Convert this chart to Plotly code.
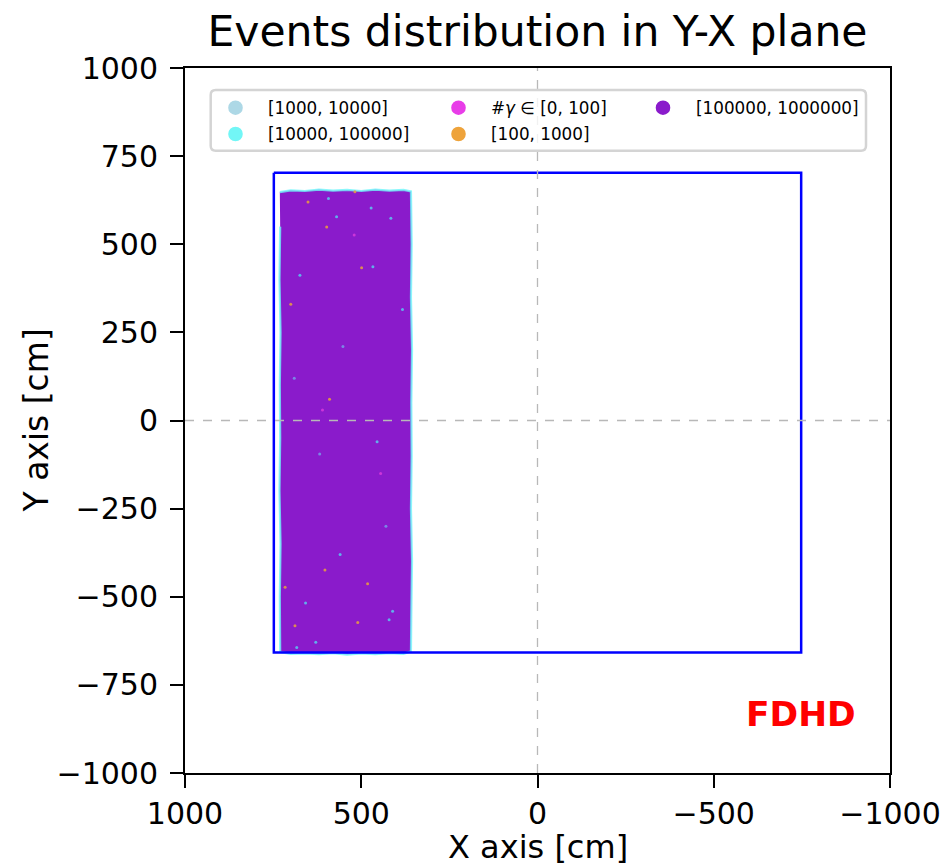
import plotly.graph_objects as go

# ---------------- data ----------------
title_text = "Events distribution in Y-X plane"
x_label = "X axis [cm]"
y_label = "Y axis [cm]"
detector = "FDHD"

x_ticks = [1000, 500, 0, -500, -1000]
x_tick_text = ["1000", "500", "0", "\u2212500", "\u22121000"]
y_ticks = [1000, 750, 500, 250, 0, -250, -500, -750, -1000]
y_tick_text = ["1000", "750", "500", "250", "0", "\u2212250", "\u2212500", "\u2212750", "\u22121000"]

# detector boundary (cm)
box_x = [748, -748, -748, 748, 748]
box_y = [703, 703, -658, -658, 703]

# outline of the dense event cloud, class [100000, 1000000] (cm)
cloud_x = [731, 700, 660, 620, 580, 540, 500, 460, 420, 380, 359,
           357, 359, 356, 358, 357, 359, 356, 358, 359,
           380, 420, 460, 500, 540, 580, 620, 660, 700, 730,
           731, 729, 732, 730, 731, 729, 732, 730]
cloud_y = [648, 653, 651, 655, 652, 654, 651, 655, 652, 654, 650,
           500, 350, 200, 50, -100, -250, -400, -550, -655,
           -662, -660, -663, -661, -664, -660, -663, -661, -662, -657,
           -500, -350, -200, -50, 100, 250, 400, 550]

# sparse events of the other classes (cm)
lightblue_x = [552, 618, 430, 690]
lightblue_y = [210, -95, -300, 120]
cyan_x = [593, 570, 416, 472, 467, 674, 658, 411, 421, 629, 683, 383, 560, 455]
cyan_y = [630, 578, 574, 603, 436, 412, -518, -541, -565, -629, -644, 315, -380, -60]
magenta_x = [520, 445, 610]
magenta_y = [526, -150, 30]
orange_x = [651, 598, 499, 518, 510, 603, 482, 688, 716, 590, 700]
orange_y = [620, 549, 433, 649, -573, -424, -463, -582, -473, 60, 330]

legend_labels = ["[1000, 10000]", "[10000, 100000]", "#<i>\u03b3</i> \u2208 [0, 100]",
                 "[100, 1000]", "[100000, 1000000]"]
legend_colors = ["#add8e6", "#72f6f6", "#e83de8", "#eea33b", "#8a1bcb"]
PURPLE = legend_colors[4]

FONT = "DejaVu Sans"

# pixel -> paper helpers (plot area 185..890 x 68..773)
L, R, T, B = 185, 890, 68, 773
def px(xp):
    return (xp - L) / (R - L)
def py(yp):
    return (B - yp) / (B - T)

fig = go.Figure()

# dense cloud
fig.add_trace(go.Scatter(
    x=cloud_x, y=cloud_y, mode="lines", fill="toself",
    fillcolor=PURPLE, line=dict(color="rgba(110,245,250,0.8)", width=2.2),
    hoverinfo="skip", showlegend=False))

# sparse classes
for xs, ys, col in [(lightblue_x, lightblue_y, "rgba(120,160,235,0.8)"),
                    (cyan_x, cyan_y, "rgba(90,200,240,0.85)"),
                    (magenta_x, magenta_y, "rgba(220,60,220,0.8)"),
                    (orange_x, orange_y, "rgba(235,160,60,0.85)")]:
    fig.add_trace(go.Scatter(x=xs, y=ys, mode="markers",
                             marker=dict(color=col, size=3, line=dict(width=0)),
                             showlegend=False))

# detector box
fig.add_trace(go.Scatter(x=box_x, y=box_y, mode="lines",
                         line=dict(color="#0000ff", width=2.5),
                         showlegend=False))

shapes = []
# dashed zero lines
shapes.append(dict(type="line", xref="x", yref="paper", x0=0, x1=0, y0=0, y1=1,
                   line=dict(color="#b8b8b8", width=1.3, dash="dash"), layer="above"))
shapes.append(dict(type="line", xref="paper", yref="y", x0=0, x1=1, y0=0, y1=0,
                   line=dict(color="#b8b8b8", width=1.3, dash="dash"), layer="above"))

# legend box (rounded)
bx0, bx1, by0, by1, r = 210.7, 866, 90, 150.7, 5
pts = [("M", bx0 + r, by0), ("L", bx1 - r, by0), ("Q", bx1, by0, bx1, by0 + r),
       ("L", bx1, by1 - r), ("Q", bx1, by1, bx1 - r, by1), ("L", bx0 + r, by1),
       ("Q", bx0, by1, bx0, by1 - r), ("L", bx0, by0 + r), ("Q", bx0, by0, bx0 + r, by0)]
path = ""
for p in pts:
    if p[0] == "Q":
        path += f"Q{px(p[1]):.5f},{py(p[2]):.5f} {px(p[3]):.5f},{py(p[4]):.5f} "
    else:
        path += f"{p[0]}{px(p[1]):.5f},{py(p[2]):.5f} "
path += "Z"
shapes.append(dict(type="path", xref="paper", yref="paper", path=path,
                   fillcolor="rgba(255,255,255,0.8)",
                   line=dict(color="#d4d4d4", width=2.5), layer="above"))

annotations = []
leg_pos = [(235.5, 107.7), (235.5, 134), (458.5, 107.7), (458.5, 134), (663, 107.7)]
for (mx, my), lab, col in zip(leg_pos, legend_labels, legend_colors):
    rad = 7.3
    shapes.append(dict(type="circle", xref="paper", yref="paper",
                       x0=px(mx - rad), x1=px(mx + rad), y0=py(my + rad), y1=py(my - rad),
                       fillcolor=col, line=dict(width=0), layer="above"))
    annotations.append(dict(xref="paper", yref="paper", x=px(mx + 30.5), y=py(my),
                            xanchor="left", yanchor="middle", text=lab, showarrow=False,
                            font=dict(family=FONT, size=16.8, color="#000000")))

# detector tag
annotations.append(dict(xref="paper", yref="paper", x=px(858), y=py(714),
                        xanchor="right", yanchor="middle", text=f"<b>{detector}</b>",
                        showarrow=False, font=dict(family=FONT, size=34.5, color="#ff0000")))
# axis labels
annotations.append(dict(xref="paper", yref="paper", x=0.5, y=py(847),
                        xanchor="center", yanchor="middle", text=x_label, showarrow=False,
                        font=dict(family=FONT, size=32, color="#000000")))
annotations.append(dict(xref="paper", yref="paper", x=px(36), y=0.5, textangle=-90,
                        xanchor="center", yanchor="middle", text=y_label, showarrow=False,
                        font=dict(family=FONT, size=33, color="#000000")))

axis_common = dict(showgrid=False, zeroline=False, showline=True, mirror=True,
                   automargin=False,
                   linecolor="#000000", linewidth=2, ticks="outside", ticklen=13,
                   tickwidth=2, tickcolor="#000000",
                   tickfont=dict(family=FONT, size=30, color="#000000"))

fig.update_layout(
    width=946, height=868,
    margin=dict(l=L, r=946 - R, t=T, b=868 - B, pad=0, autoexpand=False),
    paper_bgcolor="white", plot_bgcolor="white",
    title=dict(text=title_text, x=0.5, xref="paper", xanchor="center",
               y=1 - 31 / 868, yref="container", yanchor="middle",
               font=dict(family=FONT, size=42.5, color="#000000")),
    xaxis=dict(range=[1000, -1000], tickvals=x_ticks, ticktext=x_tick_text,
               ticklabelstandoff=0, **axis_common),
    yaxis=dict(range=[-1000, 1000], tickvals=y_ticks, ticktext=y_tick_text,
               ticklabelstandoff=6, **axis_common),
    shapes=shapes, annotations=annotations, showlegend=False,
)

fig.write_html("out.html")
